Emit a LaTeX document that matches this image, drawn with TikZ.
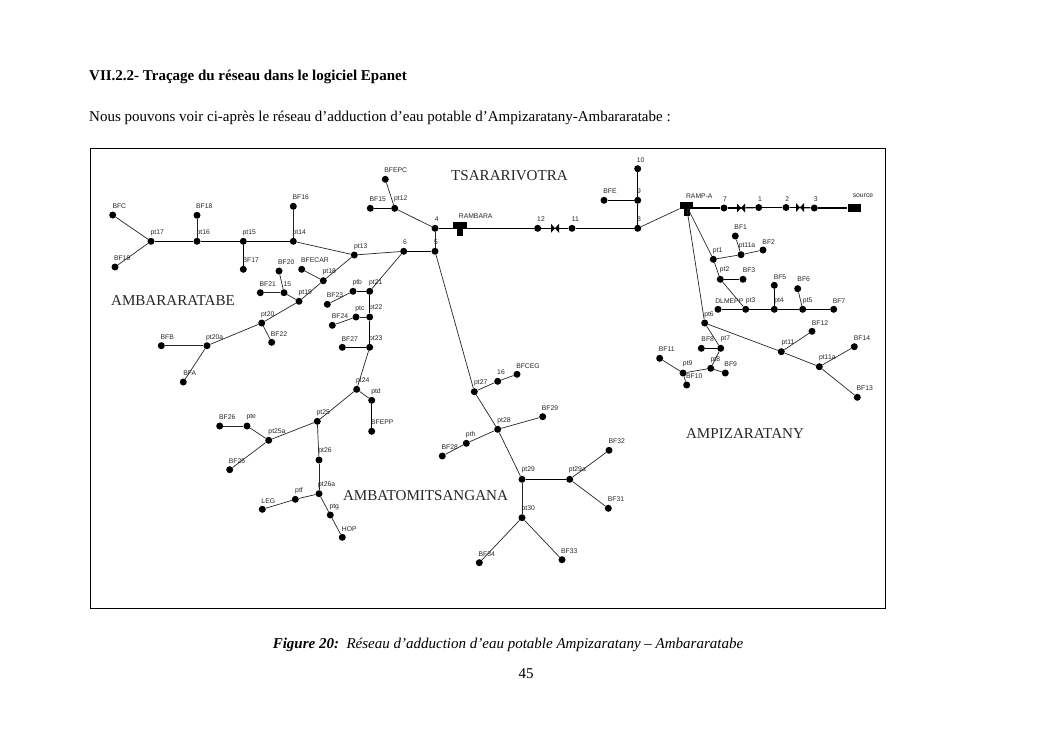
\documentclass[tikz,border=0pt]{standalone}
\usepackage{fontspec}
\setmainfont{Liberation Serif}
\setsansfont{Liberation Sans}
\usepackage{xcolor}
\usetikzlibrary{calc}
\tikzset{
  junc/.style={circle, fill=black, inner sep=0pt, minimum size=7pt},
  lab/.style={font=\sffamily\fontsize{6.8}{8}\selectfont, text=black!85, inner sep=0pt},
  zone/.style={font=\fontsize{15.1}{17}\selectfont, text=black!85, inner sep=0pt},
  pagetext/.style={font=\fontsize{15}{17}\selectfont, inner sep=0pt},
  pipe/.style={draw=black!85, line width=0.7pt},
  pipeheavy/.style={draw=black, line width=1.2pt},
  tank/.style={fill=black, inner sep=0pt, minimum width=13.4pt, minimum height=7pt},
  tankfoot/.style={fill=black, inner sep=0pt, minimum width=6.4pt, minimum height=7.5pt},
}

\begin{document}
\begin{tikzpicture}[x=1pt,y=-1pt]
    \useasboundingbox (0,0) rectangle (1053,745);
    \fill[white] (0,0) rectangle (1053,745);

    % page text
    \node[pagetext, anchor=west, font=\bfseries\fontsize{15}{17}\selectfont] (heading) at (89,76.5) {VII.2.2- Traçage du réseau dans le logiciel Epanet};
    \node[pagetext, anchor=west] (intro) at (89,117.5) {Nous pouvons voir ci-après le réseau d’adduction d’eau potable d’Ampizaratany-Ambararatabe :};
    \node[pagetext, font=\itshape\fontsize{15}{17}\selectfont] (caption) at (508,645) {\textbf{Figure 20:}\ \ Réseau d’adduction d’eau potable Ampizaratany – Ambararatabe};
    \node[pagetext] (pagenum) at (526,673.5) {45};
    \draw[black, line width=0.7pt] (90.5,148) rectangle (885,608);

    % zones
    \node[zone] (ambararatabe) at (173,300.5) {AMBARARATABE};
    \node[zone] (tsararivotra) at (509.5,176) {TSARARIVOTRA};
    \node[zone] (ampizaratany) at (745,434) {AMPIZARATANY};
    \node[zone] (ambatomitsangana) at (425.5,496) {AMBATOMITSANGANA};

    % tanks, source and valves
    \node[tank] (rambara) at (460,225) {};
    \node[tankfoot] (rambarafoot) at (460,232) {};
    \node[lab, anchor=center] (rambaralab) at (475.7,216) {RAMBARA};
    \node[tank] (rampa) at (686.4,205.5) {};
    \node[tankfoot] (rampafoot) at (687,212) {};
    \node[lab] (rampalab) at (699.3,195.7) {RAMP-A};
    \node[tank, minimum height=7.6pt] (source) at (854.2,208) {};
    \node[lab] (sourcelab) at (863,196) {source};
    \coordinate (rampaout) at (690,208);
    \coordinate (v1) at (555,228.3);
    \coordinate (v2) at (741,208);
    \coordinate (v3) at (800,207.5);

    % name/x/y/text/label x/label y
    \foreach \name/\x/\y/\txt/\lx/\ly in {
      bfc/112.7/215/BFC/119.3/206,
      pt17/151/241.3/pt17/157.3/232.7,
      bf19/115/267/BF19/122.3/258.3,
      pt16/197/241.3/pt16/203.3/232.7,
      bf18/197/215.3/BF18/204.3/206,
      pt15/243.3/241.3/pt15/249.3/232.7,
      bf17/243.3/269.3/BF17/250.7/260.3,
      pt14/293.3/241.3/pt14/299.3/232.7,
      bf16/293.3/206.3/BF16/300.7/197.3,
      pt13/354.3/255/pt13/360.7/246.7,
      bf20/279/271/BF20/286.3/262,
      n15/284/292.7/15/287.3/283.7,
      bf21/260.3/292.7/BF21/267.7/284,
      bfecar/301.7/269.3/BFECAR/315/260.3,
      pt18/323.3/280.7/pt18/329.3/272.3,
      pt19/299/301.3/pt19/305.3/292.7,
      pt20/261.7/323/pt20/267.7/314.7,
      bf22/271.7/342.3/BF22/279/334,
      pt20a/207/345.7/pt20a/214.7/337.7,
      bfb/161.3/345.7/BFB/167.3/337,
      bfa/183.3/382/BFA/189.7/373.3,
      bfepc/385.3/179.3/BFEPC/395.7/170.3,
      pt12/394.7/208.3/pt12/400.7/199.3,
      bf15/370.3/208.3/BF15/377.7/199.3,
      n4/435/228.3/4/436.7/219.3,
      n5/435/251.3/5/436/242.3,
      n6/403.7/251.3/6/405/242.3,
      n12/537.7/228.3/12/541/219.3,
      n11/572/228.3/11/575.3/219.3,
      ptb/353/291.3/ptb/357.3/282.7,
      pt21/369.7/291.3/pt21/375.7/282.7,
      bf23/327.3/304.3/BF23/335/295.3,
      ptc/356/317/ptc/360/308.7,
      pt22/369.7/317/pt22/375.7/308.3,
      bf24/332.3/325.3/BF24/340/316.3,
      bf27/342.3/347.3/BF27/349.7/338.7,
      pt23/369.7/347.3/pt23/375.7/338.7,
      pt24/356.7/389.3/pt24/362.7/380.7,
      ptd/371.7/400.3/ptd/376/391.7,
      bfepp/371.7/431.3/BFEPP/382.3/422,
      pt25/317.3/421.3/pt25/323.3/412.7,
      pte/247/426/pte/251.3/417.3,
      bf26/219.7/426/BF26/227.3/416.7,
      pt25a/268.7/440.3/pt25a/277/432,
      bf25/229.7/469.7/BF25/237/461,
      pt26/319/460/pt26/325/451.3,
      pt26a/319/493.7/pt26a/326.7/484.7,
      ptf/295.3/499.3/ptf/299/490.7,
      leg/262.3/509.3/LEG/268.3/501.3,
      ptg/330.3/515/ptg/334.3/506.7,
      hop/342.3/537.3/HOP/349.3/528.7,
      pt27/474.3/391.7/pt27/480.7/383,
      n16/497.7/381.3/16/501/372.3,
      bfceg/517/374.3/BFCEG/528/365.7,
      pt28/497.7/429.3/pt28/504/421,
      bf29/542.7/416.7/BF29/550/408,
      pth/466.3/443.3/pth/470.7/434.7,
      bf28/442.3/456/BF28/449.7/447.3,
      pt29/522/479.3/pt29/528.3/470.3,
      pt29a/569.7/479.3/pt29a/577.3/470.3,
      bf32/609/450.3/BF32/616.7/441.3,
      bf31/608.3/508.3/BF31/616/499.3,
      pt30/522/517.7/pt30/528.3/508.7,
      bf34/479.3/562.7/BF34/486.7/553.7,
      bf33/562/559.7/BF33/569.3/550.7,
      n10/637.7/168.7/10/640.7/160,
      n9/637.7/200.3/9/639/191.3,
      bfe/604/200.3/BFE/610/191.3,
      n8/637.7/228.3/8/639/219.3,
      n7/724/208/7/725/198.7,
      n1/758.7/207.5/1/760/198.7,
      n2/786/207.5/2/787.3/198.7,
      n3/814.3/208/3/815.7/199.3,
      pt1/713.3/259.3/pt1/717.7/250.7,
      pt11a/741/254.7/pt11a/747/246,
      bf1/735.3/236/BF1/740.7/227.3,
      bf2/763/250/BF2/768.7/241.7,
      pt2/720.3/279.3/pt2/724.7/270.3,
      bf3/743/279.3/BF3/749/270.3,
      dlmepp/718/309.3/DLMEPP/729.3/300.7,
      pt3/745.7/309.3/pt3/750.7/300.7,
      pt4/774.3/309.3/pt4/779/300.7,
      bf5/774.3/285.3/BF5/780/276.7,
      pt5/802.7/309.3/pt5/807.7/300.7,
      bf6/797.7/288.7/BF6/803.7/279.3,
      bf7/833.7/309.3/BF7/839/300.7,
      pt6/704.7/323/pt6/709/314.7,
      bf8/701.3/348.3/BF8/707.7/339.3,
      pt7/720.7/348.3/pt7/725.3/339.3,
      pt8/710.7/368.3/pt8/715.3/359.7,
      bf9/725.3/373/BF9/730.7/364,
      pt9/683/373/pt9/687.7/364.3,
      bf11/659.7/358.3/BF11/666.7/349.3,
      bf10/686.7/385/BF10/694.3/376.3,
      pt11/781.3/351.7/pt11/788/343.3,
      bf12/812/331.3/BF12/820/322.7,
      pt11b/819.3/366.7/pt11a/827.3/357.7,
      bf14/854.3/346.7/BF14/862/337.7,
      bf13/857.3/397.3/BF13/864.7/388.3} {
      \node[junc] (\name) at (\x,\y) {};
      \node[lab] (\name lab) at (\lx,\ly) {\txt};
    }

    % thin pipes
    \foreach \a/\b in {bfc/pt17, bf19/pt17, bf18/pt16, bf16/pt14, pt14/pt13, pt13/n6,
      pt12/n4, pt12/bfepc, pt13/pt18, pt18/bfecar, pt18/pt19, pt19/n15, n15/bf21, n15/bf20,
      pt19/pt20, pt20/bf22, pt20/pt20a, pt20a/bfb, pt20a/bfa, n6/pt21, ptb/bf23, ptc/bf24,
      pt22/ptc, pt23/pt24, pt24/ptd, pt24/pt25, pt25/pt25a, pt25a/pte, pte/bf26, pt25a/bf25,
      pt25/pt26, pt26/pt26a, pt26a/ptf, ptf/leg, pt26a/ptg, ptg/hop, n5/pt27, pt27/n16,
      n16/bfceg, pt27/pt28, pt28/bf29, pt28/pth, pth/bf28, pt28/pt29, pt29a/bf32, pt29a/bf31,
      pt29/pt30, pt30/bf34, pt30/bf33, n5/n4, n8/rampa, rampa/pt1, pt1/pt11a, pt11a/bf1,
      pt11a/bf2, pt1/pt2, pt2/pt3, pt5/bf6, rampa/pt6, pt6/pt7, pt7/pt8, pt8/bf9, pt8/pt9,
      pt9/bf11, pt9/bf10, pt6/pt11, pt11/bf12, pt11/pt11b, pt11b/bf14, pt11b/bf13}
      \draw[pipe] (\a) -- (\b);

    % heavy pipes
    \foreach \a/\b in {pt17/pt16, pt16/pt15, pt15/pt14, pt15/bf17, n6/n5, pt12/bf15, pt21/ptb,
      pt21/pt22, pt22/pt23, pt23/bf27, ptd/bfepp, pt29/pt29a, n4/n12, n12/v1,
      v1/n11, n11/n8, n8/n9, n9/n10, n9/bfe, rampaout/n7, n7/v2, v2/n1, n1/n2, n2/v3, v3/n3,
      n3/source, pt2/bf3, dlmepp/pt3, pt3/pt4, pt4/pt5, pt5/bf7, pt4/bf5, pt7/bf8}
      \draw[pipeheavy] (\a) -- (\b);

    % valves
    \foreach \v in {v1, v2, v3}
      \fill[black] ($(\v)+(-4,-4.5)$) -- ($(\v)+(4,4.5)$) -- ($(\v)+(4,-4.5)$) -- ($(\v)+(-4,4.5)$) -- cycle;
  \end{tikzpicture}
\end{document}
